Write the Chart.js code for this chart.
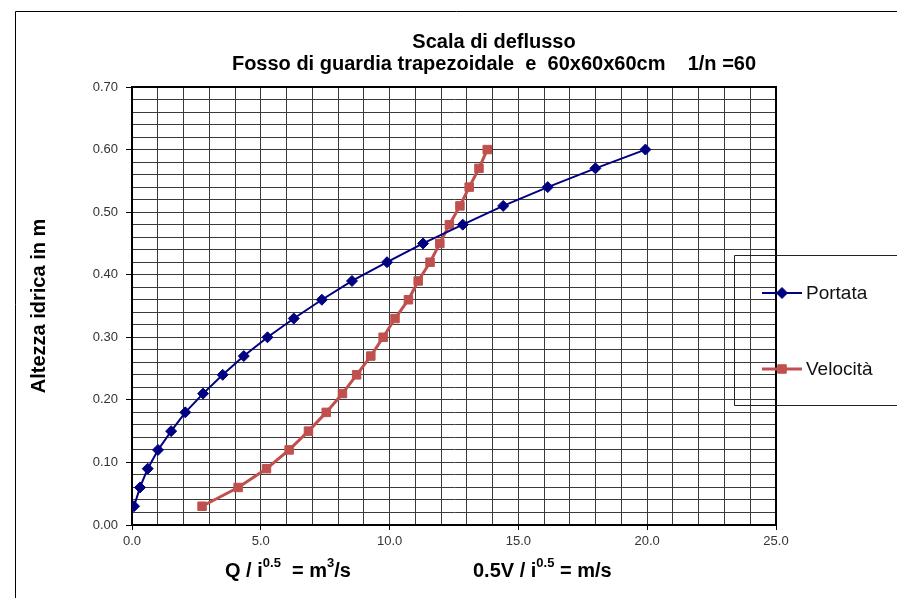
<!DOCTYPE html>
<html>
<head>
<meta charset="utf-8">
<title>Scala di deflusso</title>
<script src="https://cdn.jsdelivr.net/npm/chart.js"></script>
<style>
  body { margin: 0; background: #fff; }
  canvas { display: block; }
</style>
</head>
<body>
<canvas id="myChart" width="897" height="598"></canvas>
<script>
let altezza = [0.03, 0.06, 0.09, 0.12, 0.15, 0.18, 0.21, 0.24, 0.27, 0.30, 0.33, 0.36, 0.39, 0.42, 0.45, 0.48, 0.51, 0.54, 0.57, 0.60];
let portata = [0.08, 0.31, 0.61, 1.01, 1.52, 2.07, 2.76, 3.52, 4.34, 5.26, 6.28, 7.37, 8.54, 9.90, 11.30, 12.84, 14.41, 16.14, 17.99, 19.93];
let velocita = [2.72, 4.12, 5.22, 6.10, 6.85, 7.54, 8.17, 8.72, 9.27, 9.75, 10.21, 10.73, 11.11, 11.57, 11.95, 12.32, 12.73, 13.09, 13.47, 13.79];
let serie = ['Portata', 'Velocità'];
let xTickLabels = ['0.0', '5.0', '10.0', '15.0', '20.0', '25.0'];
let yTickLabels = ['0.00', '0.10', '0.20', '0.30', '0.40', '0.50', '0.60', '0.70'];
let titolo = ['Scala di deflusso', 'Fosso di guardia trapezoidale  e  60x60x60cm    1/n =60'];
let titoloY = 'Altezza idrica in m';

const FONT = 'Arial, "Liberation Sans", sans-serif';

function punti(xs) {
    return xs.map((x, i) => ({ x: x, y: altezza[i] }));
}

// testo con esponente: parti = [[testo, apice?], ...]
function scriviConApice(ctx, parti, x, y) {
    ctx.textBaseline = 'alphabetic';
    ctx.textAlign = 'left';
    parti.forEach(p => {
        if (p[1]) {
            ctx.font = 'bold 13px ' + FONT;
            ctx.fillText(p[0], x, y - 10);
        } else {
            ctx.font = 'bold 20px ' + FONT;
            ctx.fillText(p[0], x, y);
        }
        x += ctx.measureText(p[0]).width;
    });
}

const extra = {
    id: 'extra',
    beforeDatasetsDraw(chart) {
        const ctx = chart.ctx;
        const a = chart.chartArea;
        ctx.save();
        ctx.strokeStyle = '#000';
        ctx.lineWidth = 2;
        ctx.strokeRect(a.left, a.top, a.right - a.left, a.bottom - a.top);
        ctx.restore();
    },
    afterDraw(chart) {
        const ctx = chart.ctx;
        ctx.save();
        // cornice esterna
        ctx.strokeStyle = '#000';
        ctx.lineWidth = 1;
        ctx.beginPath();
        ctx.moveTo(15.5, 598);
        ctx.lineTo(15.5, 11.5);
        ctx.lineTo(897, 11.5);
        ctx.stroke();

        // titolo
        ctx.fillStyle = '#000';
        ctx.font = 'bold 20px ' + FONT;
        ctx.textAlign = 'center';
        ctx.textBaseline = 'alphabetic';
        ctx.fillText(titolo[0], 494, 48);
        ctx.fillText(titolo[1], 494, 70);

        // titoli asse x
        scriviConApice(ctx, [['Q / i'], ['0.5', true], ['  = m'], ['3', true], ['/s']], 225, 577);
        scriviConApice(ctx, [['0.5V / i'], ['0.5', true], [' = m/s']], 473, 577);

        // legenda
        ctx.strokeStyle = '#222';
        ctx.lineWidth = 1;
        ctx.beginPath();
        ctx.moveTo(898, 255.5);
        ctx.lineTo(734.5, 255.5);
        ctx.lineTo(734.5, 405.5);
        ctx.lineTo(898, 405.5);
        ctx.stroke();
        const ys = [293, 369];
        chart.data.datasets.forEach((ds, i) => {
            ctx.strokeStyle = ds.borderColor;
            ctx.lineWidth = ds.borderWidth;
            ctx.beginPath();
            ctx.moveTo(762, ys[i]);
            ctx.lineTo(802, ys[i]);
            ctx.stroke();
            ctx.fillStyle = ds.backgroundColor;
            ctx.strokeStyle = ds.borderColor;
            ctx.lineWidth = 1;
            Chart.helpers.drawPoint(ctx, { pointStyle: ds.pointStyle, radius: ds.pointRadius, borderWidth: 1 }, 782, ys[i]);
            ctx.fillStyle = '#111';
            ctx.font = '19px ' + FONT;
            ctx.textAlign = 'left';
            ctx.textBaseline = 'middle';
            ctx.fillText(ds.label, 806, ys[i] + 1);
        });
        ctx.restore();
    }
};

let context = document.getElementById('myChart').getContext('2d');
let chart = new Chart(context, {
    type: 'scatter',
    data: {
        datasets: [
            {
                label: serie[0],
                data: punti(portata),
                showLine: true,
                borderColor: '#000080',
                backgroundColor: '#000080',
                borderWidth: 2,
                pointStyle: 'rectRot',
                pointRadius: 5.5,
                pointHoverRadius: 5.5,
                pointBorderWidth: 1
            },
            {
                label: serie[1],
                data: punti(velocita),
                showLine: true,
                borderColor: '#C0504D',
                backgroundColor: '#C0504D',
                borderWidth: 3,
                pointStyle: 'rect',
                pointRadius: 6,
                pointHoverRadius: 6,
                pointBorderWidth: 1
            }
        ]
    },
    options: {
        responsive: false,
        animation: false,
        events: [],
        layout: { padding: { left: 15, top: 87, right: 121, bottom: 0 } },
        plugins: {
            legend: { display: false },
            title: { display: false },
            tooltip: { enabled: false }
        },
        scales: {
            x: {
                type: 'linear',
                min: 0,
                max: 25,
                afterFit(scale) { scale.height = 73; },
                ticks: {
                    stepSize: 1,
                    autoSkip: false,
                    maxRotation: 0,
                    padding: 4,
                    color: '#333',
                    font: { family: FONT, size: 13 },
                    callback: v => (Math.round(v) % 5 === 0 ? xTickLabels[Math.round(v) / 5] : '')
                },
                grid: {
                    color: '#3a3a3a',
                    lineWidth: 1,
                    tickLength: 5,
                    tickColor: c => (c.tick && Math.round(c.tick.value) % 5 === 0 ? '#000' : 'rgba(0,0,0,0)')
                },
                border: { display: true, color: '#000', width: 2 }
            },
            y: {
                type: 'linear',
                min: 0,
                max: 0.7,
                afterFit(scale) { scale.width = 117; },
                ticks: {
                    stepSize: 0.02,
                    autoSkip: false,
                    padding: 8,
                    color: '#333',
                    font: { family: FONT, size: 13 },
                    callback: v => {
                        const k = Math.round(v * 100);
                        return k % 10 === 0 ? yTickLabels[k / 10] : '';
                    }
                },
                grid: {
                    color: '#3a3a3a',
                    lineWidth: 1,
                    tickLength: 6,
                    tickColor: c => (c.tick && Math.round(c.tick.value * 100) % 10 === 0 ? '#000' : 'rgba(0,0,0,0)')
                },
                border: { display: true, color: '#000', width: 2 },
                title: {
                    display: true,
                    text: titoloY,
                    color: '#000',
                    font: { family: FONT, size: 20, weight: 'bold' },
                    padding: { top: 12, bottom: 0 }
                }
            }
        }
    },
    plugins: [extra]
});
</script>
</body>
</html>
